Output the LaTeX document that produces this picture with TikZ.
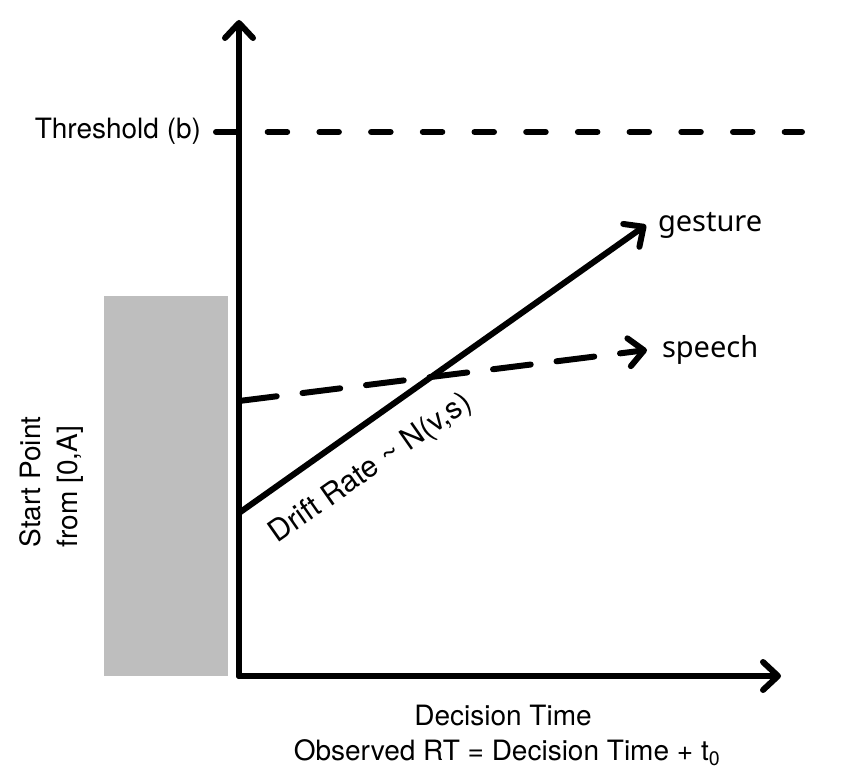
\documentclass[tikz,border=0pt]{standalone}
\usepackage{fontspec}
\setmainfont{TeX Gyre Heros}
\newfontfamily\labfont{Noto Sans}
\usetikzlibrary{arrows.meta}
\definecolor{boxgray}{HTML}{BEBEBE}
\begin{document}
\begin{tikzpicture}[x=1pt,y=-1pt,
  line width=6pt,
  tipline/.style={-{Straight Barb[length=15pt,width=28pt,round]}, line cap=round, line join=round},
  lbl/.style={font=\fontsize{28}{37}\selectfont, inner sep=0pt},
  curvelbl/.style={font=\labfont\fontsize{29}{34}\selectfont, inner sep=0pt}]
\useasboundingbox (0,0) rectangle (842,775);
% coordinates
\coordinate (O) at (239,676);
\coordinate (Ytop) at (239,20);
\coordinate (Xend) at (781,676);
\coordinate (thA) at (216,132);
\coordinate (thB) at (802,132);
\coordinate (gs) at (239,513);
\coordinate (ge) at (646,225);
\coordinate (ss) at (239,401);
\coordinate (se) at (647,350);
% gray start-point box
\node[fill=boxgray, minimum width=124pt, minimum height=380pt, inner sep=0pt] (startbox) at (166,486) {};
% threshold
\draw[line cap=round, dash pattern=on 19.5pt off 32.2pt] (thA) -- (thB);
% axes
\draw[tipline] (O) -- (Ytop);
\draw[tipline] (O) -- (Xend);
% accumulators
\draw[tipline] (gs) -- (ge);
\draw[tipline, dash pattern=on 38pt off 26pt] (ss) -- (se);
% labels
\node[lbl, anchor=base east] (thlbl) at (204,139) {Threshold (b)};
\node[curvelbl, anchor=base west] (glbl) at (655,232) {gesture};
\node[curvelbl, anchor=base west] (slbl) at (659,357) {speech};
\node[lbl, anchor=base] (dtlbl) at (503,725) {Decision Time};
\node[lbl, anchor=base] (rtlbl) at (507,760) {Observed RT = Decision Time + t\textsubscript{0}};
\node[lbl, rotate=90, align=left] (splbl) at (52,482) {Start Point\\from [0,A]};
\node[lbl, font=\fontsize{30}{36}\selectfont, rotate=35] (drlbl) at (371,469) {Drift Rate \textasciitilde{} N(v,s)};
\end{tikzpicture}
\end{document}
